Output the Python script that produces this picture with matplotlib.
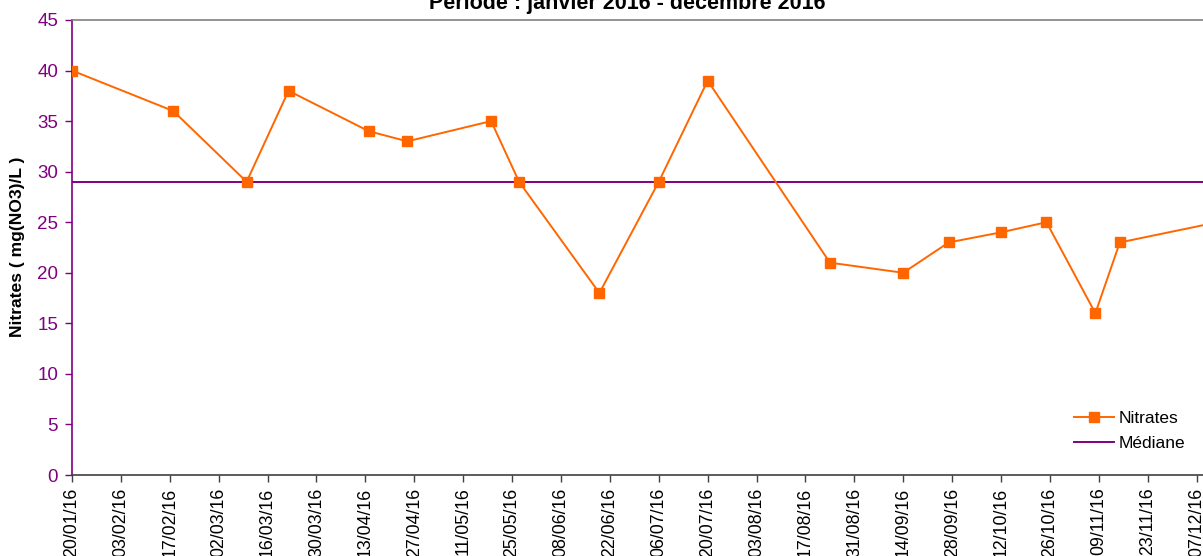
import numpy as np
import pandas as pd
import matplotlib
matplotlib.use("Agg")
import matplotlib.pyplot as plt
import matplotlib.dates as mdates

plt.rcParams['font.family'] = ['Liberation Sans', 'DejaVu Sans']

# sampling dates and nitrate values
dates = ["20/01/16", "18/02/16", "10/03/16", "22/03/16", "14/04/16", "25/04/16",
         "19/05/16", "27/05/16", "19/06/16", "06/07/16", "20/07/16", "24/08/16",
         "14/09/16", "27/09/16", "12/10/16", "25/10/16", "08/11/16", "15/11/16",
         "13/12/16"]
nitrates = [40, 36, 29, 38, 34, 33, 35, 29, 18, 29, 39, 21, 20, 23, 24, 25, 16, 23, 25]
median_value = 29

tick_start = "20/01/16"
tick_end = "07/12/16"

title = "Période : janvier 2016 - décembre 2016"
ylabel = "Nitrates ( mg(NO3)/L )"

orange = "#FF6600"
purple = "#800080"

x = pd.to_datetime(dates, format="%d/%m/%y")
ticks = pd.date_range(pd.to_datetime(tick_start, format="%d/%m/%y"),
                      pd.to_datetime(tick_end, format="%d/%m/%y"), freq="14D")

W, H = 1203, 556
fig = plt.figure(figsize=(W / 100, H / 100), dpi=100)
# axes runs off the right edge like the original
left, right, top, bottom = 72, 1270, 20, 475
ax = fig.add_axes([left / W, 1 - bottom / H, (right - left) / W, (bottom - top) / H])

ax.plot(x, nitrates, color=orange, lw=1.4, marker="s", ms=7.5,
        mec=orange, mfc=orange, label="Nitrates", zorder=3)
ax.axhline(median_value, color=purple, lw=1.4, label="Médiane", zorder=2)

ax.set_ylim(0, 45)
ax.set_yticks(range(0, 46, 5))
ax.set_xlim(ticks[0], ticks[0] + pd.Timedelta(days=343))
ax.set_xticks(ticks)
ax.xaxis.set_major_formatter(mdates.DateFormatter("%d/%m/%y"))

ax.tick_params(axis="x", rotation=90, labelsize=12.8, length=5, width=1,
               color="#404040", pad=4)
ax.tick_params(axis="y", labelsize=13.5, length=5, width=1,
               color=purple, labelcolor=purple, pad=5)

for lab in ax.get_xticklabels():
    lab.set_va("top")

ax.spines["left"].set_color(purple)
ax.spines["left"].set_linewidth(1.2)
ax.spines["bottom"].set_color("#404040")
ax.spines["bottom"].set_linewidth(1.2)
ax.spines["top"].set_color("#808080")
ax.spines["top"].set_linewidth(1.2)
ax.spines["right"].set_visible(False)

fig.text(18 / W, 1 - 247 / H, ylabel, rotation=90, fontsize=12.6,
         fontweight="bold", ha="center", va="center")
# title is cut by the top edge in the original too
fig.text(627 / W, 1 - 9.5 / H, title, fontsize=15.5, fontweight="bold",
         ha="center", va="baseline")

ax.legend(loc="center left", bbox_to_anchor=(1067 / W, 1 - 431 / H),
          bbox_transform=fig.transFigure, frameon=False, fontsize=12.5,
          handlelength=2.3, handletextpad=0.25, labelspacing=0.6,
          borderaxespad=0)

fig.savefig("out.png", dpi=100)
